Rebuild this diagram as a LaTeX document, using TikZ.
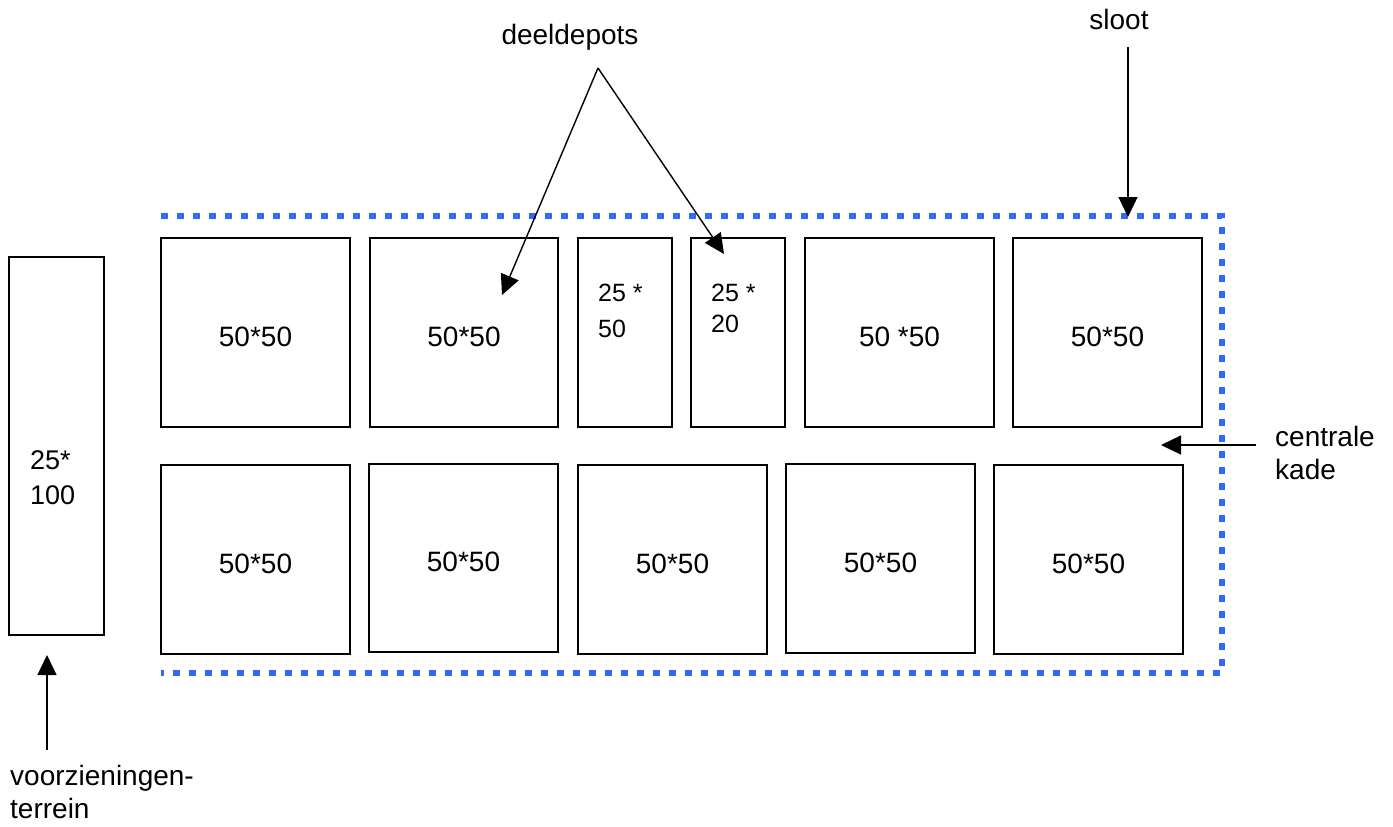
\documentclass[tikz,border=0pt]{standalone}
\usepackage{fontspec}
\setmainfont{Liberation Sans}
\usetikzlibrary{arrows.meta}
\definecolor{slootblue}{RGB}{51,102,255}
\begin{document}
\begin{tikzpicture}[x=1pt,y=-1pt,
  plot/.style={draw=black,line width=1.6pt,inner sep=0pt},
  txt/.style={inner sep=0pt,font=\fontsize{28}{34}\selectfont},
  lbl/.style={inner sep=0pt,font=\fontsize{28}{33}\selectfont,align=left},
  ptr/.style={line width=1.4pt,-{Triangle[length=20pt,width=19pt]}},
  ditch/.style={draw=slootblue,line width=6.5pt,dash pattern=on 7pt off 9pt}]
\useasboundingbox (0,0) rectangle (1393,827);
% ditch border
\draw[ditch] (161,216) -- (1222,216) -- (1222,673) -- (161,673);
% row 1
\node[plot,minimum width=189pt,minimum height=189pt] (a) at (255.5,332.5) {};
\node[plot,minimum width=188pt,minimum height=189pt] (b) at (464,332.5) {};
\node[plot,minimum width=94pt,minimum height=189pt] (c) at (625,332.5) {};
\node[plot,minimum width=94pt,minimum height=189pt] (d) at (738,332.5) {};
\node[plot,minimum width=189pt,minimum height=189pt] (e) at (899.5,332.5) {};
\node[plot,minimum width=189pt,minimum height=189pt] (f) at (1107.5,332.5) {};
\node[txt] (at) at ([yshift=-4pt]a.center) {50*50};
\node[txt] (bt) at ([yshift=-4pt]b.center) {50*50};
\node[txt] (et) at ([yshift=-4pt]e.center) {50 *50};
\node[txt] (ft) at ([yshift=-4pt]f.center) {50*50};
\node[lbl,anchor=west,font=\fontsize{25}{36}\selectfont] (ct) at (598,310.5) {25 *\\50};
\node[lbl,anchor=west,font=\fontsize{25}{31}\selectfont] (dt) at (711,308) {25 *\\20};
% row 2
\node[plot,minimum width=189pt,minimum height=189pt] (g) at (255.5,559.5) {};
\node[plot,minimum width=189pt,minimum height=188pt] (h) at (463.5,558) {};
\node[plot,minimum width=189pt,minimum height=189pt] (i) at (672.5,559.5) {};
\node[plot,minimum width=189pt,minimum height=189pt] (j) at (880.5,558.5) {};
\node[plot,minimum width=189pt,minimum height=189pt] (k) at (1088.5,559.5) {};
\node[txt] (gt) at ([yshift=-4pt]g.center) {50*50};
\node[txt] (ht) at ([yshift=-4pt]h.center) {50*50};
\node[txt] (it) at ([yshift=-4pt]i.center) {50*50};
\node[txt] (jt) at ([yshift=-4pt]j.center) {50*50};
\node[txt] (kt) at ([yshift=-4pt]k.center) {50*50};
% left plot
\node[plot,minimum width=95pt,minimum height=378pt] (v) at (56.5,446) {};
\node[lbl,anchor=west,font=\fontsize{27}{35}\selectfont] (vt) at (30,477.5) {25*\\100};
% labels
\node[lbl] (deel) at (570,37) {deeldepots};
\node[lbl] (sloot) at (1119,19) {sloot};
\node[lbl,anchor=west] (kade) at (1275,453) {centrale\\kade};
\node[lbl,anchor=west] (voor) at (10,792) {voorzieningen-\\terrein};
% arrow points
\coordinate (apex) at (598,68);
\coordinate (tb) at (502,295);
\coordinate (td) at (724,254);
\coordinate (sl0) at (1128,47);
\coordinate (sl1) at (1128,217);
\coordinate (k0) at (1256,445);
\coordinate (k1) at (1161,445);
\coordinate (v0) at (47,750);
\coordinate (v1) at (47,655);
\draw[ptr] (apex) -- (tb);
\draw[ptr] (apex) -- (td);
\draw[ptr] (sl0) -- (sl1);
\draw[ptr] (k0) -- (k1);
\draw[ptr] (v0) -- (v1);
\end{tikzpicture}
\end{document}
